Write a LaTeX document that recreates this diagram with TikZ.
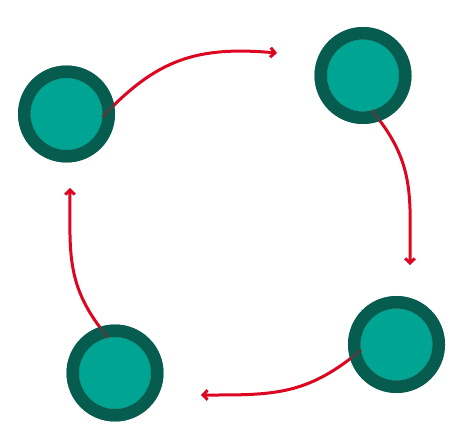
\documentclass[tikz,border=0pt]{standalone}
\usepackage{xcolor}
\usetikzlibrary{arrows.meta}
\definecolor{CycTeal}{HTML}{00A493}
\definecolor{CycRing}{HTML}{075C50}
\definecolor{CycRed}{HTML}{DD0520}

\begin{document}
\begin{tikzpicture}[x=1pt,y=1pt,
  stage/.style={circle,fill=CycTeal,minimum size=72pt,inner sep=0pt,outer sep=0pt},
  ring/.style={draw=CycRing,line width=12.5pt},
  flow/.style={CycRed,line width=3pt,looseness=1.1,-{Straight Barb[length=4.5pt,width=9.5pt]}}]
\path[use as bounding box] (0,0) rectangle (460,445);
\node[stage] (A) at (66.5,331) {};
\node[stage] (B) at (363,369.5) {};
\node[stage] (C) at (396.5,100.5) {};
\node[stage] (D) at (115,72) {};
\foreach \s in {A,B,C,D} \draw[ring] (\s.center) circle (42.25);
\coordinate (AB) at (277,392);
\coordinate (BC) at (410,180);
\coordinate (CD) at (201,50);
\coordinate (DA) at (70,257);
\draw[flow] (A.-5) to[out=47,in=175] (AB);
\draw[flow] (B.-76) to[out=-50,in=90] (BC);
\draw[flow] (C.189) to[out=220,in=0] (CD);
\draw[flow] (D.101) to[out=130,in=-90] (DA);
% ring again, so the arrow starts show faintly through it
\foreach \s in {A,B,C,D} \draw[ring,draw opacity=.7] (\s.center) circle (42.25);
\end{tikzpicture}
\end{document}
